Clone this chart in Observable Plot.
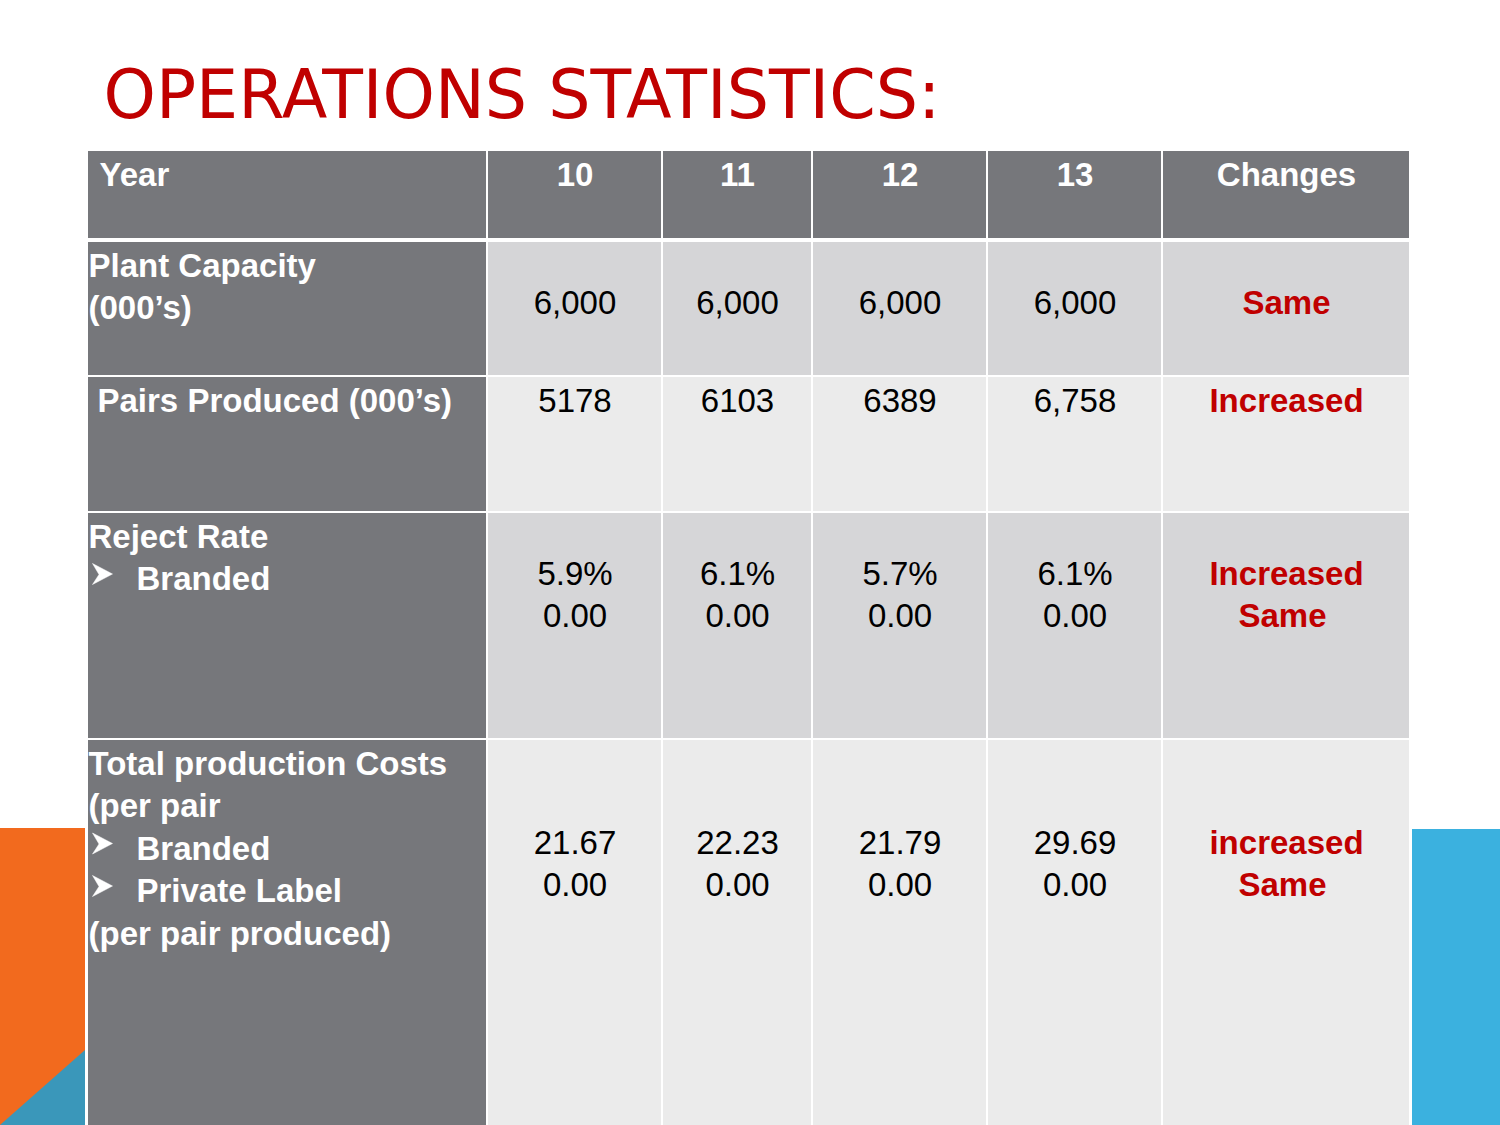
<!DOCTYPE html>
<html><head><meta charset="utf-8">
<script src="https://cdn.jsdelivr.net/npm/d3@7"></script>
<script src="https://cdn.jsdelivr.net/npm/@observablehq/plot@0.6"></script>
<style>html,body{margin:0;padding:0;background:#fff;overflow:hidden} #chart svg{display:block}</style>
</head><body><div id="chart"></div>
<script>
// ---------- data ----------
const title = "OPERATIONS STATISTICS:";
const headerLabel = "Year";
const years = ["10", "11", "12", "13"];
const changesLabel = "Changes";
const rowLabels = [
  ["Plant Capacity", "(000’s)"],
  ["Pairs Produced (000’s)"],
  ["Reject Rate", "➢ Branded"],
  ["Total production Costs", "(per pair", "➢ Branded", "➢ Private Label", "(per pair produced)"]
];
const plantCapacity = ["6,000", "6,000", "6,000", "6,000"];
const pairsProduced = ["5178", "6103", "6389", "6,758"];
const rejectRateBranded = ["5.9%", "6.1%", "5.7%", "6.1%"];
const rejectRatePrivate = ["0.00", "0.00", "0.00", "0.00"];
const costBranded = ["21.67", "22.23", "21.79", "29.69"];
const costPrivate = ["0.00", "0.00", "0.00", "0.00"];
const changes = [["Same"], ["Increased"], ["Increased", "Same"], ["increased", "Same"]];

// ---------- layout ----------
const W = 1500, H = 1125;
const colEdges = [87, 487, 662, 812, 987, 1162, 1410];
const rowSpans = [[151, 238], [242, 375], [377, 511], [513, 738], [740, 1130]];
const labelX = [99, 88, 97, 88, 88];
const bulletTextX = 136;
const lineGap = 42.5;
const firstBaseline = 34;
const valueFirstBaseline = [34, 71, 34, 71, 113];
const gray = "#76777B";
const rowFill = [gray, "#D5D5D7", "#EBEBEB", "#D6D6D8", "#EBEBEB"];
const red = "#C00000";

// arrowhead bullet symbol (➢)
const arrowSymbol = {
  draw(ctx, size) {
    const r = Math.sqrt(size / Math.PI);
    ctx.moveTo(r, 0);
    ctx.lineTo(-r, -1.05 * r);
    ctx.lineTo(-0.35 * r, 0.05 * r);
    ctx.lineTo(-r, 1.05 * r);
    ctx.closePath();
  }
};

// ---------- build tables ----------
const cells = [];
rowSpans.forEach(([t, b], r) => {
  for (let c = 0; c < colEdges.length - 1; c++) {
    cells.push({x1: colEdges[c], x2: colEdges[c + 1], y1: t, y2: b, fill: (r === 0 || c === 0) ? gray : rowFill[r]});
  }
});
const colCenter = c => (colEdges[c] + colEdges[c + 1]) / 2;

const whiteStart = [];
const whiteMiddle = [];
whiteStart.push({t: headerLabel, x: labelX[0], y: rowSpans[0][0] + firstBaseline});
years.forEach((yr, i) => whiteMiddle.push({t: yr, x: colCenter(i + 1), y: rowSpans[0][0] + firstBaseline}));
whiteMiddle.push({t: changesLabel, x: colCenter(5), y: rowSpans[0][0] + firstBaseline});
const bullets = [];
rowLabels.forEach((lines, i) => {
  const r = i + 1;
  lines.forEach((ln, j) => {
    const y = rowSpans[r][0] + firstBaseline + j * lineGap;
    if (ln.startsWith("➢")) {
      bullets.push({x: labelX[r] + 14, y: y - 16});
      whiteStart.push({t: ln.slice(2), x: bulletTextX, y});
    } else {
      whiteStart.push({t: ln, x: labelX[r], y});
    }
  });
});

const valueRows = [[plantCapacity], [pairsProduced], [rejectRateBranded, rejectRatePrivate], [costBranded, costPrivate]];
const blackText = [];
valueRows.forEach((series, i) => {
  const r = i + 1;
  series.forEach((arr, j) => arr.forEach((v, k) => {
    blackText.push({t: v, x: colCenter(k + 1), y: rowSpans[r][0] + valueFirstBaseline[r] + j * lineGap});
  }));
});
const redText = [];
changes.forEach((lines, i) => {
  const r = i + 1;
  lines.forEach((ln, j) => redText.push({t: ln, x: colCenter(5) - (j > 0 ? 4 : 0), y: rowSpans[r][0] + valueFirstBaseline[r] + j * lineGap}));
});

// decorations
const orangeBlock = [{x1: 0, x2: 85, y1: 828, y2: H}];
const blueBlock = [{x1: 1412, x2: W, y1: 829, y2: H}];
const blueTriangle = [{x: 0, y1: H, y2: H}, {x: 85, y1: 1050, y2: H}];

const chart = Plot.plot({
  width: W, height: H,
  margin: 0,
  x: {domain: [0, W], range: [0, W], axis: null},
  y: {domain: [0, H], range: [0, H], axis: null},
  style: {background: "#fff", fontFamily: "Liberation Sans, Arial, sans-serif"},
  marks: [
    Plot.rect(orangeBlock, {x1: "x1", x2: "x2", y1: "y1", y2: "y2", fill: "#F26A1E"}),
    Plot.areaY(blueTriangle, {x: "x", y1: "y1", y2: "y2", fill: "#3A97BA", curve: "linear"}),
    Plot.rect(blueBlock, {x1: "x1", x2: "x2", y1: "y1", y2: "y2", fill: "#3BB1DF"}),
    Plot.rect(cells, {x1: "x1", x2: "x2", y1: "y1", y2: "y2", fill: d => d.fill, insetLeft: 1, insetRight: 1}),
    Plot.text([{t: title, x: 103, y: 117}], {text: "t", x: "x", y: "y", textAnchor: "start", lineAnchor: "bottom",
      fontSize: 68, fill: red, fontFamily: "DejaVu Sans", className: "title"}),
    Plot.text(whiteStart, {text: "t", x: "x", y: "y", textAnchor: "start", lineAnchor: "bottom",
      fontSize: 33, fontWeight: "bold", fill: "white"}),
    Plot.text(whiteMiddle, {text: "t", x: "x", y: "y", textAnchor: "middle", lineAnchor: "bottom",
      fontSize: 33, fontWeight: "bold", fill: "white"}),
    Plot.dot(bullets, {x: "x", y: "y", r: 10, symbol: arrowSymbol, fill: "white", stroke: "white", strokeWidth: 0.5}),
    Plot.text(blackText, {text: "t", x: "x", y: "y", textAnchor: "middle", lineAnchor: "bottom",
      fontSize: 33, fill: "black"}),
    Plot.text(redText, {text: "t", x: "x", y: "y", textAnchor: "middle", lineAnchor: "bottom",
      fontSize: 33, fontWeight: "bold", fill: red})
  ]
});
document.getElementById("chart").appendChild(chart);
d3.select(chart).selectAll("g.title text").attr("textLength", 837).attr("lengthAdjust", "spacingAndGlyphs");
</script>
</body></html>
